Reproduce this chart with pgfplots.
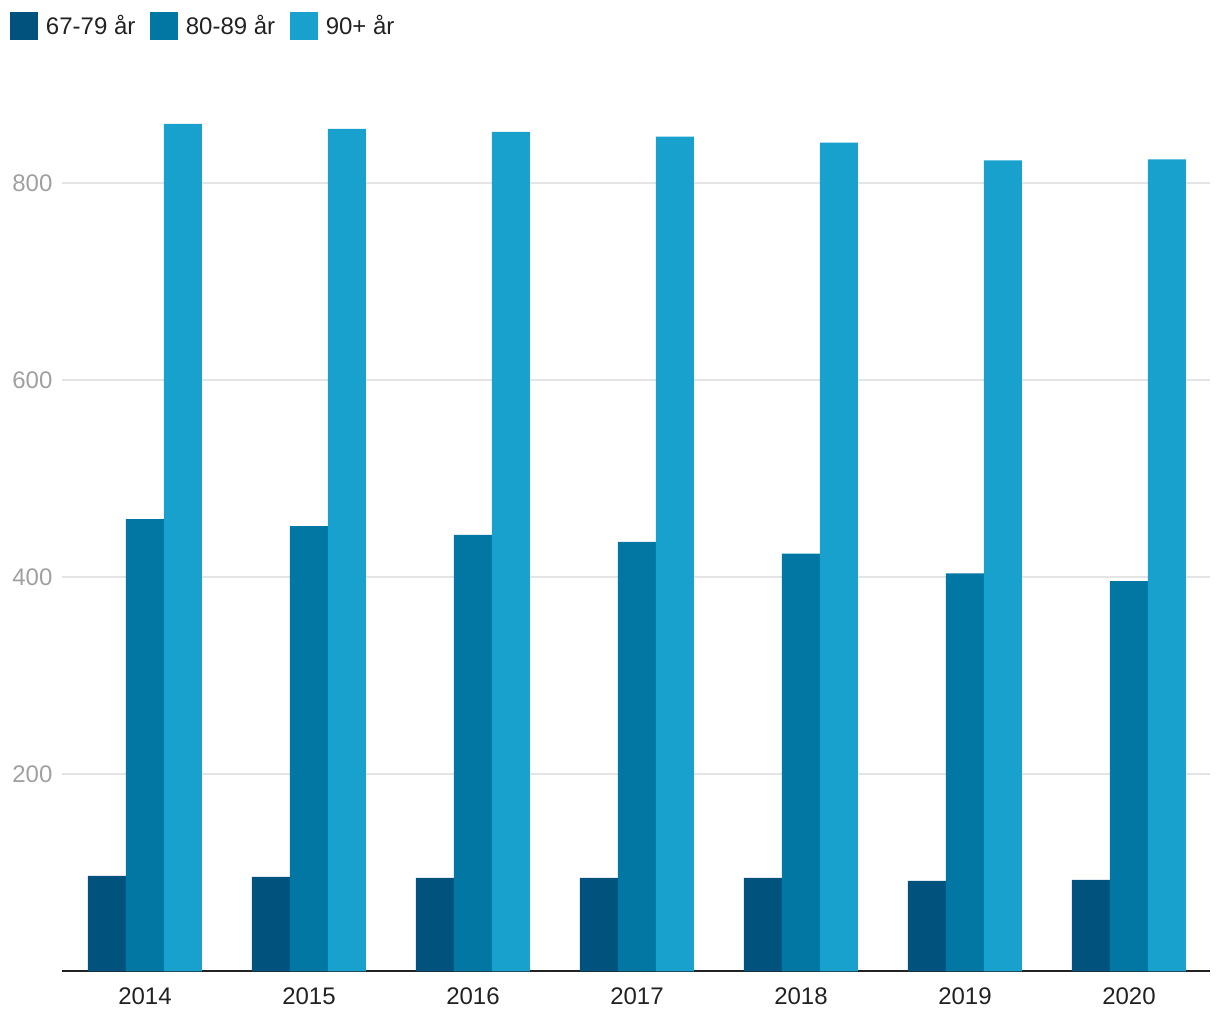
\documentclass[border=0pt]{standalone}
\usepackage{pgfplots}
\pgfplotsset{compat=1.18}
\usepackage{fontspec}
\setmainfont{Liberation Sans}
\definecolor{cA}{HTML}{01527C}
\definecolor{cB}{HTML}{0277A3}
\definecolor{cC}{HTML}{18A1CD}
\definecolor{gridc}{HTML}{E4E4E4}
\definecolor{ylab}{HTML}{A0A0A0}
\definecolor{xlab}{HTML}{222222}
\begin{document}
\begin{tikzpicture}
\begin{axis}[
 scale only axis, width=574pt, height=443.5pt,
 xmin=-0.506, xmax=6.494, ymin=0, ymax=900,
 ybar=0pt, bar width=19pt,
 axis x line*=bottom, axis y line*=left,
 y axis line style={draw=none},
 x axis line style={draw=xlab, line width=1pt, -},
 xtick={0,1,2,3,4,5,6},
 xticklabels={2014,2015,2016,2017,2018,2019,2020},
 ytick={200,400,600,800},
 major tick length=0pt,
 ymajorgrids, grid style={gridc, line width=1pt},
 /pgf/number format/assume math mode=true,
 tick label style={font=\fontsize{12}{14}\selectfont},
 yticklabel style={text=ylab, anchor=west, inner sep=0pt, xshift=-25pt},
 xticklabel style={text=xlab, yshift=-4.8pt},
 legend columns=3,
 legend style={draw=none, fill=none, at={(-0.0453,1.0817)}, anchor=north west,
   inner sep=0pt, outer sep=0pt, font=\fontsize{12}{14}\selectfont, text=xlab,
   nodes={inner sep=0pt},
   /tikz/every odd column/.append style={column sep=4pt},
   /tikz/every even column/.append style={column sep=7.25pt}},
 legend image code/.code={\fill[#1] (0pt,-7pt) rectangle (14pt,7pt);},
]
\addplot[fill=cA, draw=none] coordinates {(0,97)(1,96)(2,95)(3,95)(4,95)(5,92)(6,93)};
\addplot[fill=cB, draw=none] coordinates {(0,459)(1,452)(2,443)(3,436)(4,424)(5,404)(6,396)};
\addplot[fill=cC, draw=none] coordinates {(0,860)(1,855)(2,852)(3,847)(4,841)(5,823)(6,824)};
\legend{67-79 år,80-89 år,90+ år}
\end{axis}
\pgfresetboundingbox
\path[use as bounding box] (-31pt,-24.25pt) rectangle (579pt,485.75pt);
\end{tikzpicture}
\end{document}
